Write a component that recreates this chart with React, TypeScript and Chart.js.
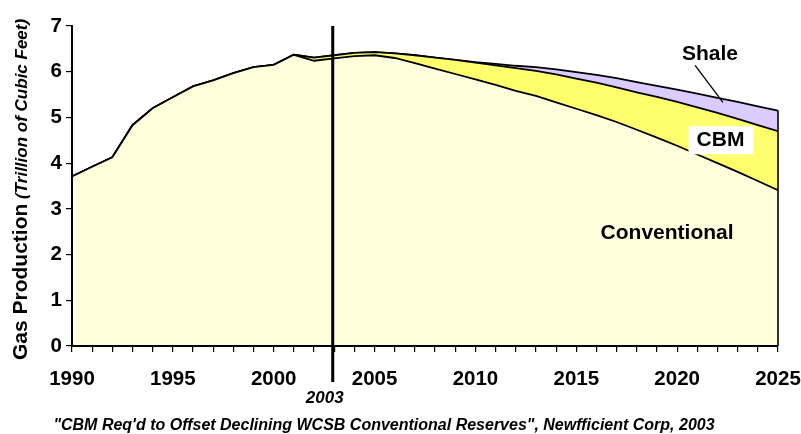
import React, { useEffect, useRef } from 'react';
import { Chart, registerables } from 'chart.js';

Chart.register(...registerables);

// ---- data ----
const years = [
  1990, 1991, 1992, 1993, 1994, 1995, 1996, 1997, 1998, 1999,
  2000, 2001, 2002, 2003, 2004, 2005, 2006, 2007, 2008, 2009,
  2010, 2011, 2012, 2013, 2014, 2015, 2016, 2017, 2018, 2019,
  2020, 2021, 2022, 2023, 2024, 2025,
];
const conventional = [
  3.71, 3.92, 4.13, 4.83, 5.2, 5.44, 5.68, 5.81, 5.97, 6.1,
  6.15, 6.37, 6.24, 6.29, 6.34, 6.36, 6.3, 6.19, 6.07, 5.95,
  5.83, 5.71, 5.58, 5.47, 5.33, 5.19, 5.05, 4.9, 4.73, 4.56,
  4.38, 4.19, 4.0, 3.81, 3.61, 3.41,
];
const cbm = [
  0, 0, 0, 0, 0, 0, 0, 0, 0, 0,
  0, 0, 0.07, 0.07, 0.07, 0.07, 0.1, 0.17, 0.24, 0.31,
  0.37, 0.43, 0.5, 0.55, 0.61, 0.66, 0.71, 0.76, 0.82, 0.89,
  0.96, 1.03, 1.1, 1.16, 1.22, 1.29,
];
const shale = [
  0, 0, 0, 0, 0, 0, 0, 0, 0, 0,
  0, 0, 0, 0, 0, 0, 0, 0, 0, 0,
  0.01, 0.03, 0.05, 0.08, 0.11, 0.14, 0.17, 0.2, 0.22, 0.24,
  0.27, 0.3, 0.33, 0.37, 0.41, 0.45,
];
const seriesNames = ['Conventional', 'CBM', 'Shale'];
const yMin = 0;
const yMax = 7;
const xMin = 1990;
const xMax = 2025;
const labelEvery = 5;
const markerYear = 2003;
const markerLabel = '2003';
const yTitleMain = 'Gas Production';
const yTitleSub = ' (Trillion of Cubic Feet)';
const footnote =
  '"CBM Req\'d to Offset Declining WCSB Conventional Reserves", Newfficient Corp, 2003';

// annotation anchors (in data coordinates)
const shaleLabelAt = { x: 2021.63, y: 6.38 };
const shaleArrowFrom = { x: 2020.89, y: 6.14 };
const shaleArrowTo = { x: 2022.27, y: 5.33 };
const cbmLabelAt = { x: 2022.15, y: 4.5 };
const convLabelAt = { x: 2019.5, y: 2.47 };

const FONT = '"Liberation Sans", Arial, Helvetica, sans-serif';

export default function App() {
  const ref = useRef<HTMLCanvasElement>(null);

  useEffect(() => {
    const canvas = ref.current!;
    const ctx = canvas.getContext('2d')!;
    const pts = (arr: number[]) => years.map((x, i) => ({ x, y: arr[i] }));

    const overlay = {
      id: 'overlay',
      afterDraw(chart: any) {
        const c = chart.ctx as CanvasRenderingContext2D;
        const xs = chart.scales.x;
        const ys = chart.scales.y;
        const area = chart.chartArea;
        const px = (v: number) => xs.getPixelForValue(v);
        const py = (v: number) => ys.getPixelForValue(v);
        c.save();
        c.strokeStyle = '#000';
        c.fillStyle = '#000';

        // right edge of the stacked area
        const last = years.length - 1;
        const total = conventional[last] + cbm[last] + shale[last];
        c.lineWidth = 1.6;
        c.beginPath();
        c.moveTo(px(years[last]), py(0));
        c.lineTo(px(years[last]), py(total));
        c.stroke();

        // 2003 marker
        const mx = px(markerYear) - 1.5;
        c.lineWidth = 3;
        c.beginPath();
        c.moveTo(mx, py(yMax));
        c.lineTo(mx, area.bottom + 36);
        c.stroke();
        c.font = `italic bold 17px ${FONT}`;
        c.textAlign = 'center';
        c.textBaseline = 'middle';
        c.fillText(markerLabel, mx - 8, area.bottom + 52);

        // Shale label + arrow
        c.font = `bold 21px ${FONT}`;
        c.fillText(seriesNames[2], px(shaleLabelAt.x), py(shaleLabelAt.y));
        c.lineWidth = 1.3;
        c.beginPath();
        c.moveTo(px(shaleArrowFrom.x), py(shaleArrowFrom.y));
        c.lineTo(px(shaleArrowTo.x), py(shaleArrowTo.y));
        c.stroke();

        // CBM label on white box
        const cx = px(cbmLabelAt.x);
        const cy = py(cbmLabelAt.y);
        c.fillStyle = '#fff';
        c.fillRect(cx - 32, cy - 14, 65, 28);
        c.fillStyle = '#000';
        c.fillText(seriesNames[1], cx, cy);

        // Conventional label
        c.fillText(seriesNames[0], px(convLabelAt.x), py(convLabelAt.y));

        // Y axis title (mixed fonts)
        c.save();
        c.translate(27, 360);
        c.rotate(-Math.PI / 2);
        c.textAlign = 'left';
        c.textBaseline = 'alphabetic';
        c.font = `bold 21px ${FONT}`;
        c.fillText(yTitleMain, 0, 0);
        const w = c.measureText(yTitleMain).width;
        c.font = `italic bold 17px ${FONT}`;
        c.fillText(yTitleSub, w, 0);
        c.restore();

        // footnote
        c.font = `italic bold 16px ${FONT}`;
        c.textAlign = 'center';
        c.textBaseline = 'middle';
        c.fillText(footnote, 384, 426);

        c.restore();
      },
    };

    const chart = new Chart(ctx, {
      type: 'line',
      data: {
        datasets: [
          {
            label: seriesNames[0],
            data: pts(conventional),
            fill: 'origin',
            backgroundColor: '#FFFFDC',
            borderColor: '#000',
            borderWidth: 1.8,
          },
          {
            label: seriesNames[1],
            data: pts(cbm),
            fill: '-1',
            backgroundColor: '#FFFF6E',
            borderColor: '#000',
            borderWidth: 1.8,
          },
          {
            label: seriesNames[2],
            data: pts(shale),
            fill: '-1',
            backgroundColor: '#DCCBFF',
            borderColor: '#000',
            borderWidth: 1.8,
          },
        ],
      },
      options: {
        animation: false,
        responsive: false,
        devicePixelRatio: 1,
        events: [],
        elements: { point: { radius: 0 }, line: { tension: 0 } },
        layout: { padding: { top: 26, right: 23, bottom: 0, left: 0 } },
        plugins: {
          legend: { display: false },
          tooltip: { enabled: false },
          title: { display: false },
        },
        scales: {
          x: {
            type: 'linear',
            min: xMin,
            max: xMax,
            afterFit: (s: any) => {
              s.height = 88;
              s.paddingLeft = 0;
              s.paddingRight = 0;
            },
            ticks: {
              stepSize: 1,
              autoSkip: false,
              maxRotation: 0,
              minRotation: 0,
              padding: 15,
              color: '#000',
              font: { family: FONT, size: 20.5, weight: 'bold' },
              callback: (v: any) => (Number(v) % labelEvery === 0 ? String(v) : ''),
            },
            grid: {
              drawOnChartArea: false,
              drawTicks: true,
              tickLength: 6,
              color: '#000',
              lineWidth: 1.2,
            },
            border: { display: true, color: '#000', width: 2, z: 1 },
          },
          y: {
            stacked: true,
            min: yMin,
            max: yMax,
            afterFit: (s: any) => {
              s.width = 72;
              s.paddingTop = 0;
              s.paddingBottom = 0;
            },
            ticks: {
              stepSize: 1,
              padding: 4,
              color: '#000',
              font: { family: FONT, size: 20.5, weight: 'bold' },
            },
            grid: {
              drawOnChartArea: false,
              drawTicks: true,
              tickLength: 6,
              color: '#000',
              lineWidth: 1.2,
            },
            border: { display: true, color: '#000', width: 2, z: 1 },
          },
        },
      } as any,
      plugins: [overlay],
    });
    return () => chart.destroy();
  }, []);

  return (
    <div
      style={{ position: 'absolute', left: 0, top: 0, width: 801, height: 434, background: '#fff' }}
    >
      <canvas ref={ref} width={801} height={434} style={{ display: 'block' }} />
    </div>
  );
}
